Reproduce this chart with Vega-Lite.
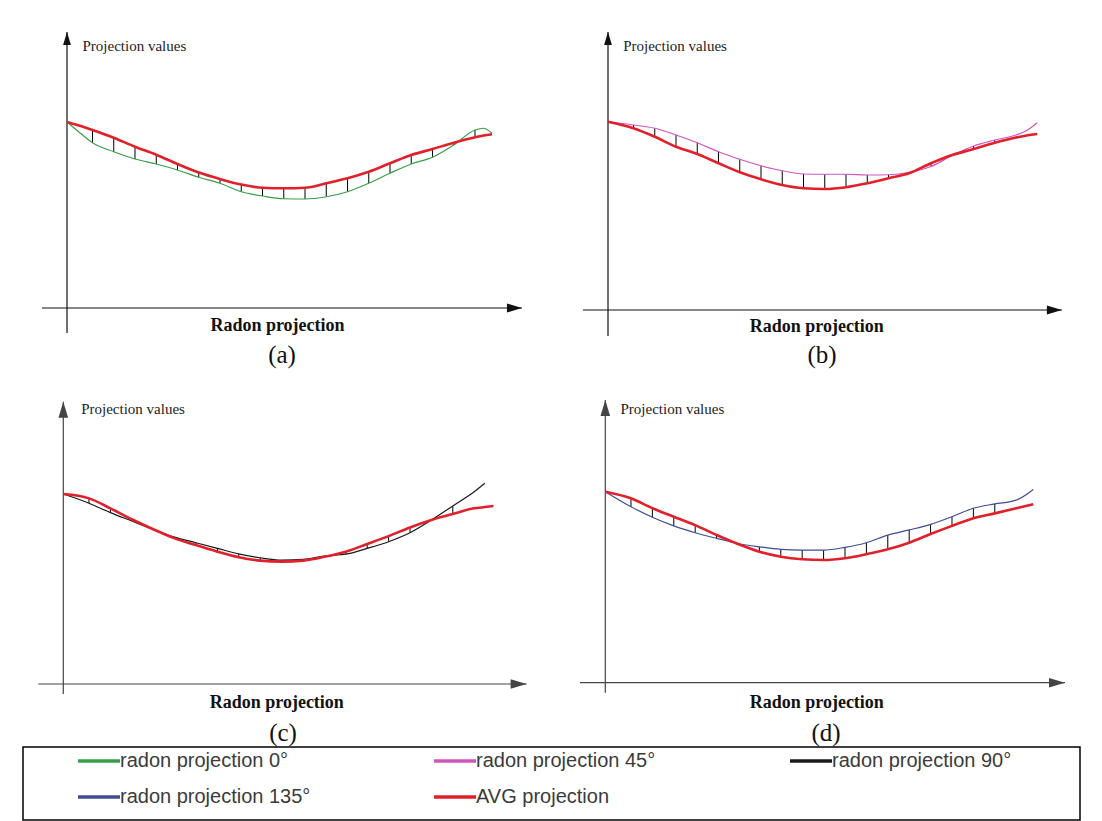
{
 "$schema": "https://vega.github.io/schema/vega-lite/v6.json",
 "background": "white",
 "padding": {"left": 22, "top": 28, "right": 5, "bottom": 2},
 "spacing": -4,
 "config": {
  "view": {"stroke": null},
  "axis": {"domain": false, "ticks": false, "labels": false, "grid": false},
  "title": {"font": "Liberation Serif", "fontSize": 25, "fontWeight": "normal", "color": "#111"}
 },
 "datasets": {
  "a": [
   {"x": 0, "AVG projection": 74.4, "radon projection 0°": 74.4},
   {"x": 0.6, "AVG projection": 72.9, "radon projection 0°": 70.1},
   {"x": 1.2, "AVG projection": 71.2, "radon projection 0°": 66.1},
   {"x": 2.2, "AVG projection": 68.1, "radon projection 0°": 62.5},
   {"x": 3.2, "AVG projection": 64.5, "radon projection 0°": 59.6},
   {"x": 4.2, "AVG projection": 61.3, "radon projection 0°": 57.6},
   {"x": 5.2, "AVG projection": 57.6, "radon projection 0°": 55.2},
   {"x": 6.2, "AVG projection": 54.2, "radon projection 0°": 52.3},
   {"x": 7.2, "AVG projection": 51.6, "radon projection 0°": 49.9},
   {"x": 8.2, "AVG projection": 49.4, "radon projection 0°": 46.5},
   {"x": 9.2, "AVG projection": 48.1, "radon projection 0°": 44.8},
   {"x": 10.2, "AVG projection": 47.9, "radon projection 0°": 43.7},
   {"x": 11.2, "AVG projection": 48.1, "radon projection 0°": 43.6},
   {"x": 12.2, "AVG projection": 49.9, "radon projection 0°": 44.5},
   {"x": 13.2, "AVG projection": 51.9, "radon projection 0°": 46.5},
   {"x": 14.2, "AVG projection": 54.5, "radon projection 0°": 49.9},
   {"x": 15.2, "AVG projection": 57.9, "radon projection 0°": 53.9},
   {"x": 16.2, "AVG projection": 61.2, "radon projection 0°": 57.6},
   {"x": 17.2, "AVG projection": 63.6, "radon projection 0°": 60.3},
   {"x": 18.2, "AVG projection": 66.1, "radon projection 0°": 65.2},
   {"x": 19.2, "AVG projection": 68.3, "radon projection 0°": 71.2},
   {"x": 19.6, "AVG projection": 69.0, "radon projection 0°": 71.9},
   {"x": 20.0, "AVG projection": 69.5, "radon projection 0°": 69.9}
  ],
  "b": [
   {"x": 0, "AVG projection": 74.5, "radon projection 45°": 74.5},
   {"x": 1.2, "AVG projection": 71.9, "radon projection 45°": 73.2},
   {"x": 2.2, "AVG projection": 68.5, "radon projection 45°": 71.9},
   {"x": 3.2, "AVG projection": 64.5, "radon projection 45°": 69.2},
   {"x": 4.2, "AVG projection": 61.6, "radon projection 45°": 66.1},
   {"x": 5.2, "AVG projection": 57.9, "radon projection 45°": 62.5},
   {"x": 6.2, "AVG projection": 54.3, "radon projection 45°": 59.5},
   {"x": 7.2, "AVG projection": 51.5, "radon projection 45°": 56.9},
   {"x": 8.2, "AVG projection": 49.2, "radon projection 45°": 54.9},
   {"x": 9.2, "AVG projection": 47.9, "radon projection 45°": 53.6},
   {"x": 10.2, "AVG projection": 47.6, "radon projection 45°": 53.5},
   {"x": 11.2, "AVG projection": 48.3, "radon projection 45°": 53.5},
   {"x": 12.2, "AVG projection": 49.9, "radon projection 45°": 53.2},
   {"x": 13.2, "AVG projection": 51.9, "radon projection 45°": 53.3},
   {"x": 14.2, "AVG projection": 54.0, "radon projection 45°": 54.3},
   {"x": 15.2, "AVG projection": 57.9, "radon projection 45°": 56.6},
   {"x": 16.2, "AVG projection": 61.2, "radon projection 45°": 61.0},
   {"x": 17.2, "AVG projection": 63.6, "radon projection 45°": 64.8},
   {"x": 18.2, "AVG projection": 66.1, "radon projection 45°": 67.2},
   {"x": 19.2, "AVG projection": 68.2, "radon projection 45°": 69.2},
   {"x": 19.7, "AVG projection": 69.0, "radon projection 45°": 71.0},
   {"x": 20.2, "AVG projection": 69.6, "radon projection 45°": 74.1}
  ],
  "c": [
   {"x": 0, "AVG projection": 74.5, "radon projection 90°": 74.5},
   {"x": 1.2, "AVG projection": 72.8, "radon projection 90°": 70.9},
   {"x": 2.2, "AVG projection": 68.9, "radon projection 90°": 67.2},
   {"x": 3.2, "AVG projection": 64.6, "radon projection 90°": 63.9},
   {"x": 4.2, "AVG projection": 60.7, "radon projection 90°": 60.6},
   {"x": 5.2, "AVG projection": 57.1, "radon projection 90°": 57.6},
   {"x": 6.2, "AVG projection": 54.5, "radon projection 90°": 55.4},
   {"x": 7.2, "AVG projection": 51.9, "radon projection 90°": 53.2},
   {"x": 8.2, "AVG projection": 49.7, "radon projection 90°": 51.0},
   {"x": 9.2, "AVG projection": 48.4, "radon projection 90°": 49.5},
   {"x": 10.2, "AVG projection": 48.0, "radon projection 90°": 48.6},
   {"x": 11.2, "AVG projection": 48.4, "radon projection 90°": 48.9},
   {"x": 12.2, "AVG projection": 49.9, "radon projection 90°": 50.2},
   {"x": 13.2, "AVG projection": 51.9, "radon projection 90°": 50.9},
   {"x": 14.2, "AVG projection": 54.9, "radon projection 90°": 53.2},
   {"x": 15.2, "AVG projection": 58.0, "radon projection 90°": 55.8},
   {"x": 16.2, "AVG projection": 61.4, "radon projection 90°": 59.3},
   {"x": 17.2, "AVG projection": 64.3, "radon projection 90°": 64.3},
   {"x": 18.2, "AVG projection": 66.7, "radon projection 90°": 69.8},
   {"x": 19.2, "AVG projection": 68.9, "radon projection 90°": 75.4},
   {"x": 19.7, "AVG projection": 69.4, "radon projection 90°": 78.7},
   {"x": 20.1, "AVG projection": 69.8, "radon projection 90°": null}
  ],
  "d": [
   {"x": 0, "AVG projection": 74.9, "radon projection 135°": 74.9},
   {"x": 1.2, "AVG projection": 72.3, "radon projection 135°": 69.0},
   {"x": 2.2, "AVG projection": 68.4, "radon projection 135°": 64.9},
   {"x": 3.2, "AVG projection": 65.1, "radon projection 135°": 61.5},
   {"x": 4.2, "AVG projection": 61.8, "radon projection 135°": 58.8},
   {"x": 5.2, "AVG projection": 57.9, "radon projection 135°": 56.6},
   {"x": 6.2, "AVG projection": 54.4, "radon projection 135°": 54.6},
   {"x": 7.2, "AVG projection": 51.4, "radon projection 135°": 53.3},
   {"x": 8.2, "AVG projection": 49.4, "radon projection 135°": 52.3},
   {"x": 9.2, "AVG projection": 48.4, "radon projection 135°": 52.0},
   {"x": 10.2, "AVG projection": 48.1, "radon projection 135°": 52.0},
   {"x": 11.2, "AVG projection": 48.8, "radon projection 135°": 53.1},
   {"x": 12.2, "AVG projection": 50.4, "radon projection 135°": 54.9},
   {"x": 13.2, "AVG projection": 52.3, "radon projection 135°": 57.9},
   {"x": 14.2, "AVG projection": 54.9, "radon projection 135°": 59.9},
   {"x": 15.2, "AVG projection": 58.3, "radon projection 135°": 62.1},
   {"x": 16.2, "AVG projection": 61.5, "radon projection 135°": 65.1},
   {"x": 17.2, "AVG projection": 64.5, "radon projection 135°": 68.4},
   {"x": 18.2, "AVG projection": 66.4, "radon projection 135°": 70.1},
   {"x": 19.2, "AVG projection": 68.4, "radon projection 135°": 71.6},
   {"x": 20.0, "AVG projection": 70.0, "radon projection 135°": 75.8}
  ]
 },
 "vconcat": [
  {
   "columns": 2,
   "bounds": "flush",
   "spacing": {"row": 58, "column": 41},
   "concat": [
    {
     "width": 500, "height": 312,
     "title": {"text": "(a)", "orient": "bottom", "frame": "group", "offset": 15, "baseline": "middle", "anchor": "middle", "dx": 9},
     "layer": [
      {"data": {"values": [{}]}, "mark": {"type": "rule", "color": "#111", "strokeWidth": 1.2},
       "encoding": {
        "x": {"datum": 0, "type": "quantitative", "scale": {"domain": [-2.071, 21.459], "nice": false, "zero": false},
              "axis": {"title": "Radon projection", "titleX": 254, "titleY": -15, "titleAlign": "center", "titleBaseline": "middle", "titleFont": "Liberation Serif", "titleFontSize": 18, "titleFontWeight": "bold", "titleColor": "#111", "titlePadding": 0}},
        "y": {"datum": -10, "type": "quantitative", "scale": {"domain": [-12.8, 112], "nice": false, "zero": false},
              "axis": {"title": "Projection values", "titleAngle": 0, "titleX": 59, "titleY": 17, "titleAlign": "left", "titleBaseline": "middle", "titleFont": "Liberation Serif", "titleFontSize": 15, "titleFontWeight": "normal", "titleColor": "#222", "titlePadding": 0}},
        "y2": {"datum": 110.4}}},
      {"data": {"values": [{}]}, "mark": {"type": "rule", "color": "#111", "strokeWidth": 1.2},
       "encoding": {"x": {"datum": -1.18, "type": "quantitative"}, "x2": {"datum": 21.41}, "y": {"datum": 0, "type": "quantitative"}}},
      {"data": {"name": "a"}, "transform": [{"filter": "datum.x > 1 && datum.x < 19.4"}],
       "mark": {"type": "rule", "color": "#000", "strokeWidth": 1},
       "encoding": {"x": {"field": "x", "type": "quantitative"}, "y": {"field": "AVG projection", "type": "quantitative"}, "y2": {"field": "radon projection 0°"}}},
      {"data": {"name": "a"}, "mark": {"type": "line", "interpolate": "monotone", "strokeWidth": 1.2},
       "encoding": {"x": {"field": "x", "type": "quantitative"}, "y": {"field": "radon projection 0°", "type": "quantitative"},
        "color": {"datum": "radon projection 0°", "type": "nominal",
         "scale": {"domain": ["radon projection 0°", "radon projection 45°", "radon projection 90°", "radon projection 135°", "AVG projection"], "range": ["#3a9d48", "#d055bf", "#1a1a1a", "#3f4d92", "#e0202a"]},
         "legend": {"title": null, "orient": "none", "legendX": 53, "legendY": 723, "columns": 3, "direction": "horizontal",
          "symbolType": "stroke", "symbolSize": 1764, "symbolStrokeWidth": 3.5, "symbolOffset": 0,
          "labelFont": "Liberation Sans", "labelFontSize": 20, "labelColor": "#3b3b3b", "labelOffset": -2, "labelLimit": 400,
          "gridAlign": "all", "columnPadding": 121, "rowPadding": 16, "clipHeight": 20, "padding": 0}}}},
      {"data": {"name": "a"}, "mark": {"type": "line", "interpolate": "monotone", "strokeWidth": 2.6},
       "encoding": {"x": {"field": "x", "type": "quantitative"}, "y": {"field": "AVG projection", "type": "quantitative"},
        "color": {"datum": "AVG projection", "type": "nominal"}}},
      {"data": {"values": [{}]}, "mark": {"type": "point", "shape": "M0,0L0.6,2L-0.6,2Z", "size": 169, "filled": true, "opacity": 1, "color": "#111", "strokeWidth": 0},
       "encoding": {"x": {"datum": 0, "type": "quantitative"}, "y": {"datum": 110.4, "type": "quantitative"}}},
      {"data": {"values": [{}]}, "mark": {"type": "point", "shape": "M0,0L-2,-0.6L-2,0.6Z", "size": 225, "filled": true, "opacity": 1, "color": "#111", "strokeWidth": 0},
       "encoding": {"x": {"datum": 21.41, "type": "quantitative"}, "y": {"datum": 0, "type": "quantitative"}}}
     ]
    },
    {
     "width": 500, "height": 312,
     "title": {"text": "(b)", "orient": "bottom", "frame": "group", "offset": 15, "baseline": "middle", "anchor": "middle", "dx": 8},
     "layer": [
      {"data": {"values": [{}]}, "mark": {"type": "rule", "color": "#111", "strokeWidth": 1.2},
       "encoding": {
        "x": {"datum": 0, "type": "quantitative", "scale": {"domain": [-2.071, 21.459], "nice": false, "zero": false},
              "axis": {"title": "Radon projection", "titleX": 252.3, "titleY": -13.3, "titleAlign": "center", "titleBaseline": "middle", "titleFont": "Liberation Serif", "titleFontSize": 18, "titleFontWeight": "bold", "titleColor": "#111", "titlePadding": 0}},
        "y": {"datum": -11.2, "type": "quantitative", "scale": {"domain": [-12.8, 112], "nice": false, "zero": false},
              "axis": {"title": "Projection values", "titleAngle": 0, "titleX": 58.7, "titleY": 17, "titleAlign": "left", "titleBaseline": "middle", "titleFont": "Liberation Serif", "titleFontSize": 15, "titleFontWeight": "normal", "titleColor": "#222", "titlePadding": 0}},
        "y2": {"datum": 110.4}}},
      {"data": {"values": [{}]}, "mark": {"type": "rule", "color": "#111", "strokeWidth": 1.2},
       "encoding": {"x": {"datum": -1.18, "type": "quantitative"}, "x2": {"datum": 21.36}, "y": {"datum": -0.8, "type": "quantitative"}}},
      {"data": {"name": "b"}, "transform": [{"filter": "datum.x > 1 && datum.x < 19"}],
       "mark": {"type": "rule", "color": "#000", "strokeWidth": 1},
       "encoding": {"x": {"field": "x", "type": "quantitative"}, "y": {"field": "AVG projection", "type": "quantitative"}, "y2": {"field": "radon projection 45°"}}},
      {"data": {"name": "b"}, "mark": {"type": "line", "interpolate": "monotone", "strokeWidth": 1.2},
       "encoding": {"x": {"field": "x", "type": "quantitative"}, "y": {"field": "radon projection 45°", "type": "quantitative"},
        "color": {"datum": "radon projection 45°", "type": "nominal"}}},
      {"data": {"name": "b"}, "mark": {"type": "line", "interpolate": "monotone", "strokeWidth": 2.6},
       "encoding": {"x": {"field": "x", "type": "quantitative"}, "y": {"field": "AVG projection", "type": "quantitative"},
        "color": {"datum": "AVG projection", "type": "nominal"}}},
      {"data": {"values": [{}]}, "mark": {"type": "point", "shape": "M0,0L0.6,2L-0.6,2Z", "size": 169, "filled": true, "opacity": 1, "color": "#111", "strokeWidth": 0},
       "encoding": {"x": {"datum": 0, "type": "quantitative"}, "y": {"datum": 110.4, "type": "quantitative"}}},
      {"data": {"values": [{}]}, "mark": {"type": "point", "shape": "M0,0L-2,-0.6L-2,0.6Z", "size": 225, "filled": true, "opacity": 1, "color": "#111", "strokeWidth": 0},
       "encoding": {"x": {"datum": 21.36, "type": "quantitative"}, "y": {"datum": -0.8, "type": "quantitative"}}}
     ]
    },
    {
     "width": 500, "height": 288,
     "title": {"text": "(c)", "orient": "bottom", "frame": "group", "offset": 22, "baseline": "middle", "anchor": "middle", "dx": 10},
     "layer": [
      {"data": {"values": [{}]}, "mark": {"type": "rule", "color": "#444", "strokeWidth": 1.2},
       "encoding": {
        "x": {"datum": 0, "type": "quantitative", "scale": {"domain": [-1.883, 21.48], "nice": false, "zero": false},
              "axis": {"title": "Radon projection", "titleX": 253.3, "titleY": 16.3, "titleAlign": "center", "titleBaseline": "middle", "titleFont": "Liberation Serif", "titleFontSize": 18, "titleFontWeight": "bold", "titleColor": "#111", "titlePadding": 0}},
        "y": {"datum": -3.92, "type": "quantitative", "scale": {"domain": [-0.784, 112.157], "nice": false, "zero": false},
              "axis": {"title": "Projection values", "titleAngle": 0, "titleX": 57.7, "titleY": 10.3, "titleAlign": "left", "titleBaseline": "middle", "titleFont": "Liberation Serif", "titleFontSize": 15, "titleFontWeight": "normal", "titleColor": "#222", "titlePadding": 0}},
        "y2": {"datum": 110.7}}},
      {"data": {"values": [{}]}, "mark": {"type": "rule", "color": "#444", "strokeWidth": 1.2},
       "encoding": {"x": {"datum": -1.17, "type": "quantitative"}, "x2": {"datum": 21.65}, "y": {"datum": 0, "type": "quantitative"}}},
      {"data": {"name": "c"}, "transform": [{"filter": "datum.x > 1 && datum.x < 19"}],
       "mark": {"type": "rule", "color": "#000", "strokeWidth": 1},
       "encoding": {"x": {"field": "x", "type": "quantitative"}, "y": {"field": "AVG projection", "type": "quantitative"}, "y2": {"field": "radon projection 90°"}}},
      {"data": {"name": "c"}, "mark": {"type": "line", "interpolate": "monotone", "strokeWidth": 1.2},
       "encoding": {"x": {"field": "x", "type": "quantitative"}, "y": {"field": "radon projection 90°", "type": "quantitative"},
        "color": {"datum": "radon projection 90°", "type": "nominal"}}},
      {"data": {"name": "c"}, "mark": {"type": "line", "interpolate": "monotone", "strokeWidth": 2.6},
       "encoding": {"x": {"field": "x", "type": "quantitative"}, "y": {"field": "AVG projection", "type": "quantitative"},
        "color": {"datum": "AVG projection", "type": "nominal"}}},
      {"data": {"values": [{}]}, "mark": {"type": "point", "shape": "M0,0L0.6,2L-0.6,2Z", "size": 256, "filled": true, "opacity": 1, "color": "#444", "strokeWidth": 0},
       "encoding": {"x": {"datum": 0, "type": "quantitative"}, "y": {"datum": 110.7, "type": "quantitative"}}},
      {"data": {"values": [{}]}, "mark": {"type": "point", "shape": "M0,0L-2,-0.6L-2,0.6Z", "size": 256, "filled": true, "opacity": 1, "color": "#444", "strokeWidth": 0},
       "encoding": {"x": {"datum": 21.65, "type": "quantitative"}, "y": {"datum": 0, "type": "quantitative"}}}
     ]
    },
    {
     "width": 500, "height": 288,
     "title": {"text": "(d)", "orient": "bottom", "frame": "group", "offset": 22, "baseline": "middle", "anchor": "middle", "dx": 12},
     "layer": [
      {"data": {"values": [{}]}, "mark": {"type": "rule", "color": "#444", "strokeWidth": 1.2},
       "encoding": {
        "x": {"datum": 0, "type": "quantitative", "scale": {"domain": [-1.93, 21.434], "nice": false, "zero": false},
              "axis": {"title": "Radon projection", "titleX": 252.3, "titleY": 16.3, "titleAlign": "center", "titleBaseline": "middle", "titleFont": "Liberation Serif", "titleFontSize": 18, "titleFontWeight": "bold", "titleColor": "#111", "titlePadding": 0}},
        "y": {"datum": -3.92, "type": "quantitative", "scale": {"domain": [-1.294, 111.647], "nice": false, "zero": false},
              "axis": {"title": "Projection values", "titleAngle": 0, "titleX": 56, "titleY": 10.3, "titleAlign": "left", "titleBaseline": "middle", "titleFont": "Liberation Serif", "titleFontSize": 15, "titleFontWeight": "normal", "titleColor": "#222", "titlePadding": 0}},
        "y2": {"datum": 110.9}}},
      {"data": {"values": [{}]}, "mark": {"type": "rule", "color": "#444", "strokeWidth": 1.2},
       "encoding": {"x": {"datum": -1.18, "type": "quantitative"}, "x2": {"datum": 21.48}, "y": {"datum": 0, "type": "quantitative"}}},
      {"data": {"name": "d"}, "transform": [{"filter": "datum.x > 1 && datum.x < 19"}],
       "mark": {"type": "rule", "color": "#000", "strokeWidth": 1},
       "encoding": {"x": {"field": "x", "type": "quantitative"}, "y": {"field": "AVG projection", "type": "quantitative"}, "y2": {"field": "radon projection 135°"}}},
      {"data": {"name": "d"}, "mark": {"type": "line", "interpolate": "monotone", "strokeWidth": 1.2},
       "encoding": {"x": {"field": "x", "type": "quantitative"}, "y": {"field": "radon projection 135°", "type": "quantitative"},
        "color": {"datum": "radon projection 135°", "type": "nominal"}}},
      {"data": {"name": "d"}, "mark": {"type": "line", "interpolate": "monotone", "strokeWidth": 2.6},
       "encoding": {"x": {"field": "x", "type": "quantitative"}, "y": {"field": "AVG projection", "type": "quantitative"},
        "color": {"datum": "AVG projection", "type": "nominal"}}},
      {"data": {"values": [{}]}, "mark": {"type": "point", "shape": "M0,0L0.6,2L-0.6,2Z", "size": 256, "filled": true, "opacity": 1, "color": "#444", "strokeWidth": 0},
       "encoding": {"x": {"datum": 0, "type": "quantitative"}, "y": {"datum": 110.9, "type": "quantitative"}}},
      {"data": {"values": [{}]}, "mark": {"type": "point", "shape": "M0,0L-2,-0.6L-2,0.6Z", "size": 256, "filled": true, "opacity": 1, "color": "#444", "strokeWidth": 0},
       "encoding": {"x": {"datum": 21.48, "type": "quantitative"}, "y": {"datum": 0, "type": "quantitative"}}}
     ]
    }
   ]
  },
  {
   "width": 1057, "height": 73,
   "view": {"stroke": "#000", "strokeWidth": 1.5},
   "data": {"values": []},
   "mark": {"type": "text"},
   "encoding": {}
  }
 ]
}
